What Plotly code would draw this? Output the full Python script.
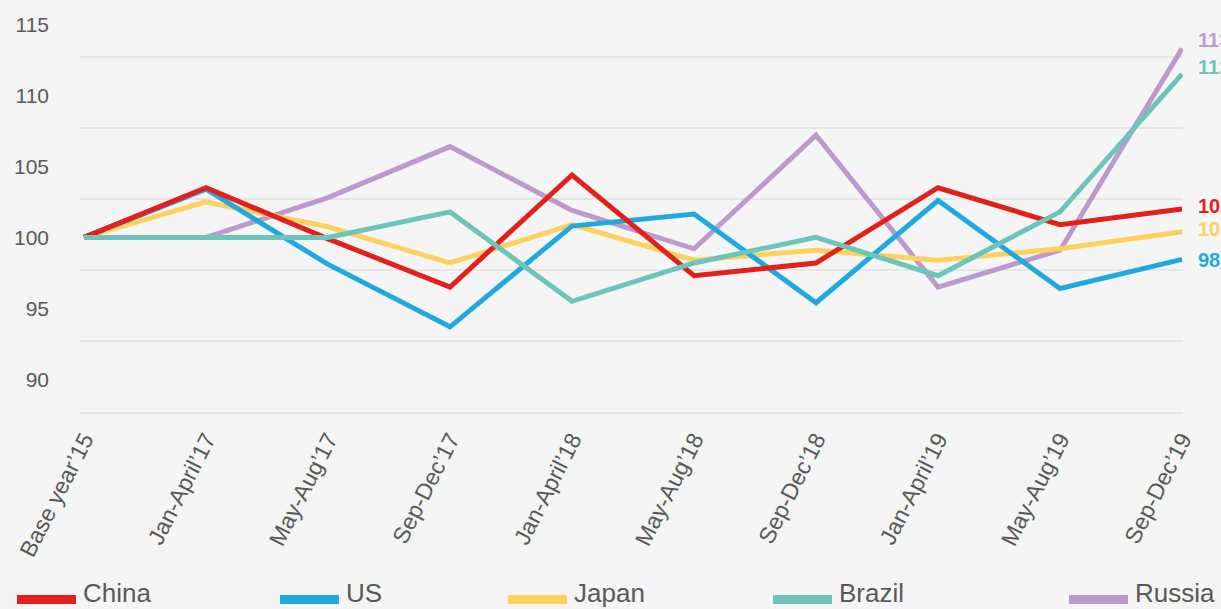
import plotly.graph_objects as go

categories = ["Base year’15", "Jan-April’17", "May-Aug’17", "Sep-Dec’17", "Jan-April’18",
              "May-Aug’18", "Sep-Dec’18", "Jan-April’19", "May-Aug’19", "Sep-Dec’19"]

china = [100, 103.5, 99.9, 96.5, 104.4, 97.3, 98.2, 103.5, 100.9, 102.0]
us = [100, 103.4, 98.1, 93.7, 100.8, 101.65, 95.4, 102.6, 96.4, 98.45]
japan = [100, 102.5, 100.75, 98.2, 100.9, 98.4, 99.1, 98.4, 99.2, 100.4]
brazil = [100, 100, 100, 101.8, 95.5, 98.2, 100, 97.3, 101.8, 111.5]
russia = [100, 100, 102.8, 106.4, 101.9, 99.2, 107.2, 96.5, 99.1, 113.3]

series_names = ["China", "US", "Japan", "Brazil", "Russia"]
end_labels = {"China": "102", "US": "98", "Japan": "100", "Brazil": "112", "Russia": "113"}
y_tick_vals = [90, 95, 100, 105, 110, 115]
grid_vals = [92.7, 97.7, 102.7, 107.7, 112.7]

data = {"China": china, "US": us, "Japan": japan, "Brazil": brazil, "Russia": russia}
colors = {"China": "#e2211c", "US": "#21a9dd", "Japan": "#ffd160",
          "Brazil": "#6dc4b8", "Russia": "#bc9bcc"}
label_yshift = {"China": 3, "US": -1, "Japan": 3, "Brazil": 7, "Russia": 9}
draw_order = ["Russia", "Japan", "US", "China", "Brazil"]

# page geometry (pixels)
W, H = 1221, 609
PLOT_L, PLOT_R, PLOT_T, PLOT_B = 80, 1183, 16, 412
ML, MT, MR, MB = PLOT_L, PLOT_T, W - PLOT_R, H - PLOT_B
PW = PLOT_R - PLOT_L
PH = PLOT_B - PLOT_T
legend_bar_x = {"China": 17, "US": 280, "Japan": 508, "Brazil": 773, "Russia": 1069}


def xp(px):
    return (px - PLOT_L) / PW


def yp(py):
    return (PLOT_B - py) / PH


fig = go.Figure()
for name in draw_order:
    fig.add_trace(go.Scatter(
        x=categories, y=data[name], name=name, mode="lines",
        line=dict(color=colors[name], width=5),
        showlegend=False, hoverinfo="skip"))

annotations = []
for name in series_names:
    annotations.append(dict(
        x=categories[-1], y=data[name][-1], xref="x", yref="y",
        text="<b>" + end_labels[name] + "</b>", showarrow=False,
        xanchor="left", yanchor="middle", xshift=14, yshift=label_yshift[name],
        font=dict(size=20, color=colors[name], family="Liberation Sans, Arial, sans-serif")))

shapes = []
for name in series_names:
    bx = legend_bar_x[name]
    shapes.append(dict(type="line", xref="paper", yref="paper",
                       x0=xp(bx), x1=xp(bx + 59), y0=yp(599.5), y1=yp(599.5),
                       line=dict(color=colors[name], width=9)))
    annotations.append(dict(
        x=xp(bx + 64), y=yp(593), xref="paper", yref="paper",
        text=name, showarrow=False, xanchor="left", yanchor="middle",
        font=dict(size=26, color="#595959", family="Liberation Sans, Arial, sans-serif")))

fig.update_layout(
    width=W, height=H,
    margin=dict(l=ML, r=MR, t=MT, b=MB),
    paper_bgcolor="#f5f5f5", plot_bgcolor="#f5f5f5",
    font=dict(family="Liberation Sans, Arial, sans-serif", color="#595959", size=20),
    hovermode=False,
    xaxis=dict(type="category", range=[-0.033, 9.008], showgrid=False, zeroline=False,
               showline=True, linecolor="#e6e6e6", linewidth=2,
               tickangle=-63, tickfont=dict(size=23, color="#595959"),
               ticks="", ticklabelstandoff=3),
    yaxis=dict(range=[87.7, 115.6], tickmode="array", tickvals=y_tick_vals,
               showgrid=False, zeroline=False, showline=False, ticks="",
               tickfont=dict(size=21, color="#595959"), ticklabelstandoff=30,
               minor=dict(tickmode="array", tickvals=grid_vals, showgrid=True,
                          gridcolor="#e6e6e6", gridwidth=2, ticks="")),
    annotations=annotations,
    shapes=shapes,
)

fig.write_html(
    "out.html",
    config={"displayModeBar": False},
    post_script="document.body.style.margin='0';document.body.style.overflow='hidden';"
                "document.body.style.background='#f5f5f5';",
)
